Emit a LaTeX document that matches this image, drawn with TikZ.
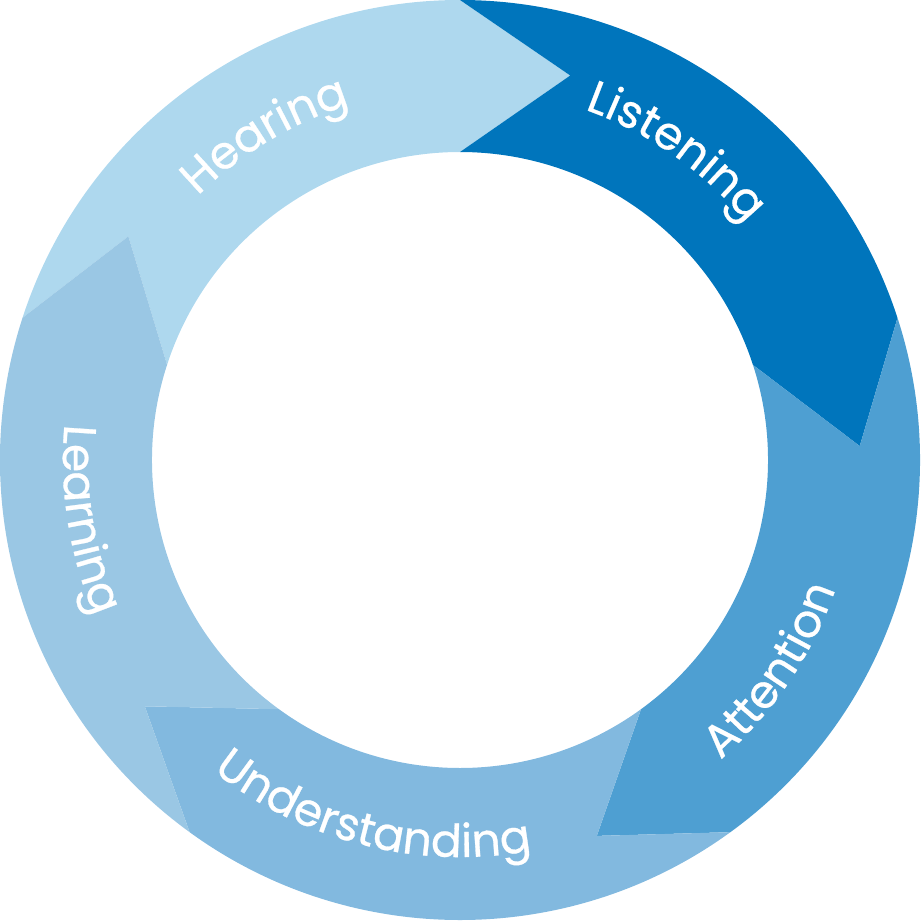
\documentclass[tikz,border=0pt]{standalone}
\usepackage{fontspec}
\newfontfamily\wordfont{Poppins}[LetterSpace=6,FakeBold=0.6]
\usetikzlibrary{decorations.text}
\definecolor{hearing}{HTML}{AED8EE}
\definecolor{listening}{HTML}{0075BC}
\definecolor{attention}{HTML}{4E9FD2}
\definecolor{understanding}{HTML}{82B9DF}
\definecolor{learning}{HTML}{9AC7E4}
\tikzset{
  word/.style={decorate, decoration={text along path, text align=center,
    text color=white, text={|\wordfont\fontsize{13}{15}\selectfont|#1}}}
}
\begin{document}
\begin{tikzpicture}
\useasboundingbox (-4.6,-4.6) rectangle (4.61,4.6);
% arrow segments of the ring
\foreach \s/\c in {162/hearing, 90/listening, 18/attention, -54/understanding, -126/learning}
  \fill[\c] (\s:4.6) arc[start angle=\s, end angle=\s-72, radius=4.6]
    -- (\s-88:4.0) -- (\s-72:3.08)
    arc[start angle=\s-72, end angle=\s, radius=3.08]
    -- (\s-16:4.0) -- cycle;
% labels, clockwise
\path[word=Hearing] (161:3.72) arc[start angle=161, end angle=81, radius=3.72];
\path[word=Listening] (95:3.72) arc[start angle=95, end angle=15, radius=3.72];
% labels, counter-clockwise
\path[word=Attention] (-74:3.97) arc[start angle=-74, end angle=6, radius=3.97];
\path[word=Understanding] (216:3.97) arc[start angle=216, end angle=296, radius=3.97];
\path[word=Learning] (149:3.97) arc[start angle=149, end angle=229, radius=3.97];
\end{tikzpicture}
\end{document}
